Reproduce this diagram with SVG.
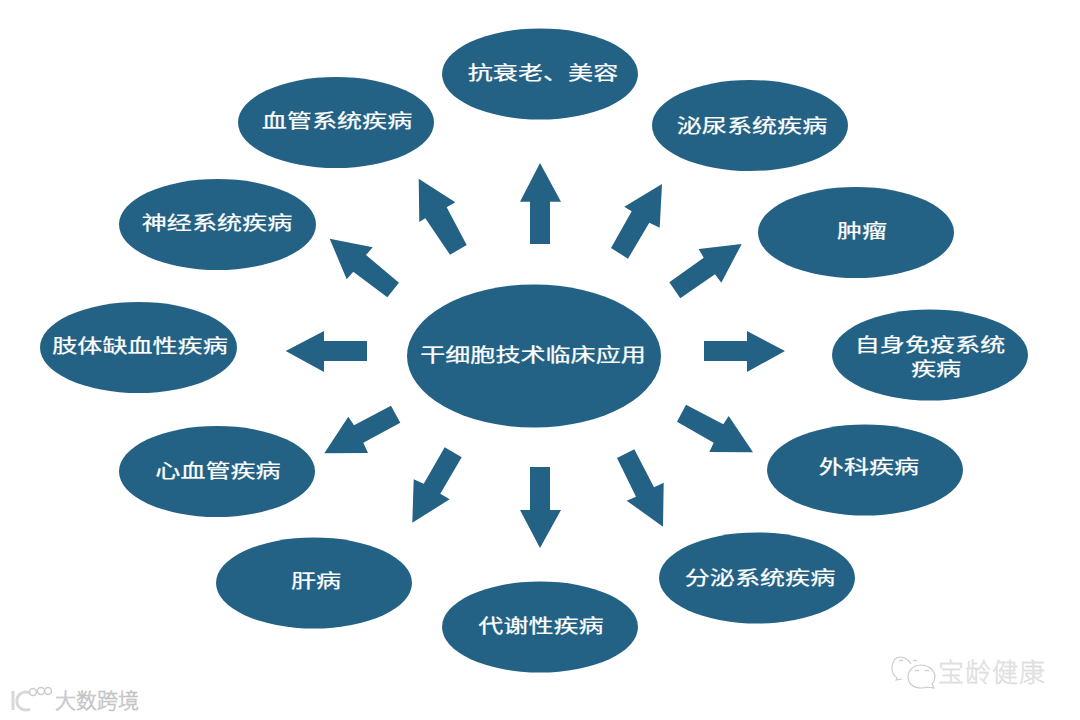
<svg xmlns="http://www.w3.org/2000/svg" width="1080" height="720" viewBox="0 0 1080 720">
<style>
.n{fill:#236285}
.t{fill:#fff;stroke:#fff;stroke-width:.25;font-family:"Noto Sans CJK SC","Noto Sans CJK JP",sans-serif;font-size:19px;font-weight:400;text-anchor:middle}
.a{fill:#236285}
.w{font-family:"Noto Sans CJK SC",sans-serif;font-weight:300}
.wl{fill:none;stroke:#c9c9c9;stroke-width:1.1}
</style>
<rect width="1080" height="720" fill="#fff"/>
<g id="connectors">
<polygon class="a" points="540,163 561,201.7 550,201.7 550,244 530,244 530,201.7 520,201.7"/>
<polygon class="a" points="285.7,351 324,331 324,341 367,341 367,361 324,361 324,372"/>
<polygon class="a" points="785,351 747,331 747,341 704,341 704,361 747,361 747,372"/>
<polygon class="a" points="540,548 561,510 550,510 550,467 530,467 530,510 520,510"/>
<polygon class="a" points="418.7,178.7 455.3,202.3 446.7,207.3 466.7,245 450,254.7 425.3,218.3 419.3,222"/>
<polygon class="a" points="329.7,238.7 372.7,247.3 366,255 399,282.7 387.3,297.3 353.3,271.7 346.7,279.3"/>
<polygon class="a" points="662,184 624.3,206.7 631.7,211.3 611,248 628,258.7 649.3,222.7 659.7,227.7"/>
<polygon class="a" points="741.7,244 698.7,249 703.7,257.7 669.3,282.3 680.3,298.3 715,274.3 721.3,282.7"/>
<polygon class="a" points="753,452.3 728.7,416 723.3,424.3 686,404.7 677,421.7 713.7,442.7 709.3,452"/>
<polygon class="a" points="663,526.7 663.7,482.7 654,487.3 634.3,449.3 617,458 636,496.7 626.7,500.7"/>
<polygon class="a" points="412.3,522.7 413.7,479.3 423.7,483.7 444.7,447.3 461.7,457.3 440.3,493.7 449.7,499.3"/>
<polygon class="a" points="324.3,453.3 348.3,416.7 354,425.3 391,405.7 400.3,422.7 363.3,442.7 368,453"/>
</g>
<g id="center"><ellipse class="n" cx="534" cy="356" rx="127" ry="71.5"/><text class="t" transform="translate(533 362) scale(1.32 1)">干细胞技术临床应用</text></g>
<g id="n1"><ellipse class="n" cx="540" cy="74" rx="98" ry="45.5"/><text class="t" transform="translate(543 80) scale(1.32 1)">抗衰老、美容</text></g>
<g id="n2"><ellipse class="n" cx="336" cy="122.500" rx="98" ry="45.5"/><text class="t" transform="translate(337 128) scale(1.32 1)">血管系统疾病</text></g>
<g id="n3"><ellipse class="n" cx="750" cy="125.500" rx="98" ry="45.5"/><text class="t" transform="translate(752 133) scale(1.32 1)">泌尿系统疾病</text></g>
<g id="n4"><ellipse class="n" cx="217.500" cy="224.500" rx="98.500" ry="45.5"/><text class="t" transform="translate(217 230) scale(1.32 1)">神经系统疾病</text></g>
<g id="n5"><ellipse class="n" cx="856" cy="232.500" rx="98" ry="45.5"/><text class="t" transform="translate(862 238) scale(1.32 1)">肿瘤</text></g>
<g id="n6"><ellipse class="n" cx="138.500" cy="347.500" rx="98.500" ry="45.5"/><text class="t" transform="translate(140 353) scale(1.32 1)">肢体缺血性疾病</text></g>
<g id="n7"><ellipse class="n" cx="930" cy="355" rx="98" ry="45.5"/><text class="t" transform="translate(930 352) scale(1.32 1)">自身免疫系统</text><text class="t" transform="translate(936 376) scale(1.32 1)">疾病</text></g>
<g id="n8"><ellipse class="n" cx="217" cy="471.500" rx="98" ry="45.5"/><text class="t" transform="translate(218 478) scale(1.32 1)">心血管疾病</text></g>
<g id="n9"><ellipse class="n" cx="865" cy="470" rx="98" ry="45.5"/><text class="t" transform="translate(869 474) scale(1.32 1)">外科疾病</text></g>
<g id="n10"><ellipse class="n" cx="314" cy="583" rx="98" ry="45.5"/><text class="t" transform="translate(316 588) scale(1.32 1)">肝病</text></g>
<g id="n11"><ellipse class="n" cx="540" cy="627" rx="98" ry="45.5"/><text class="t" transform="translate(541 633) scale(1.32 1)">代谢性疾病</text></g>
<g id="n12"><ellipse class="n" cx="757" cy="578" rx="98" ry="45.5"/><text class="t" transform="translate(760 585) scale(1.32 1)">分泌系统疾病</text></g>
<text class="w" x="938" y="682" font-size="26" fill="#e6e6e6" stroke="#d0d0d0" stroke-width=".3" letter-spacing="1">宝龄健康</text>
<path class="wl" d="M911 664c-3-5-7-7-11-7-5 0-8 5-8 11 0 4 2 8 5 10l-1 2 6-1"/>
<path class="wl" d="M921 665c-8 0-13 6-13 12s5 11 13 11c2 0 4 0 6-1l7 1-2-4c2-2 3-4 3-7 0-6-6-12-14-12z"/>
<path class="wl" d="M899 661l2-1 2 1M913 661l2-1 2 1M915 671l2-1 2 1M925 671l2-1 2 1"/>
<text class="w" x="55" y="708" font-size="21" fill="#dedede" stroke="#bdbdbd" stroke-width=".6">大数跨境</text>
<path d="M13 691v19M30 693a9 9 0 1 0 0 16" fill="none" stroke="#d8d8d8" stroke-width="3"/>
<circle cx="33" cy="692" r="3.500" fill="none" stroke="#ccc" stroke-width="1.5"/><circle cx="41" cy="691" r="3.500" fill="none" stroke="#ccc" stroke-width="1.5"/><circle cx="48" cy="691" r="3.500" fill="none" stroke="#ccc" stroke-width="1.5"/>
</svg>
